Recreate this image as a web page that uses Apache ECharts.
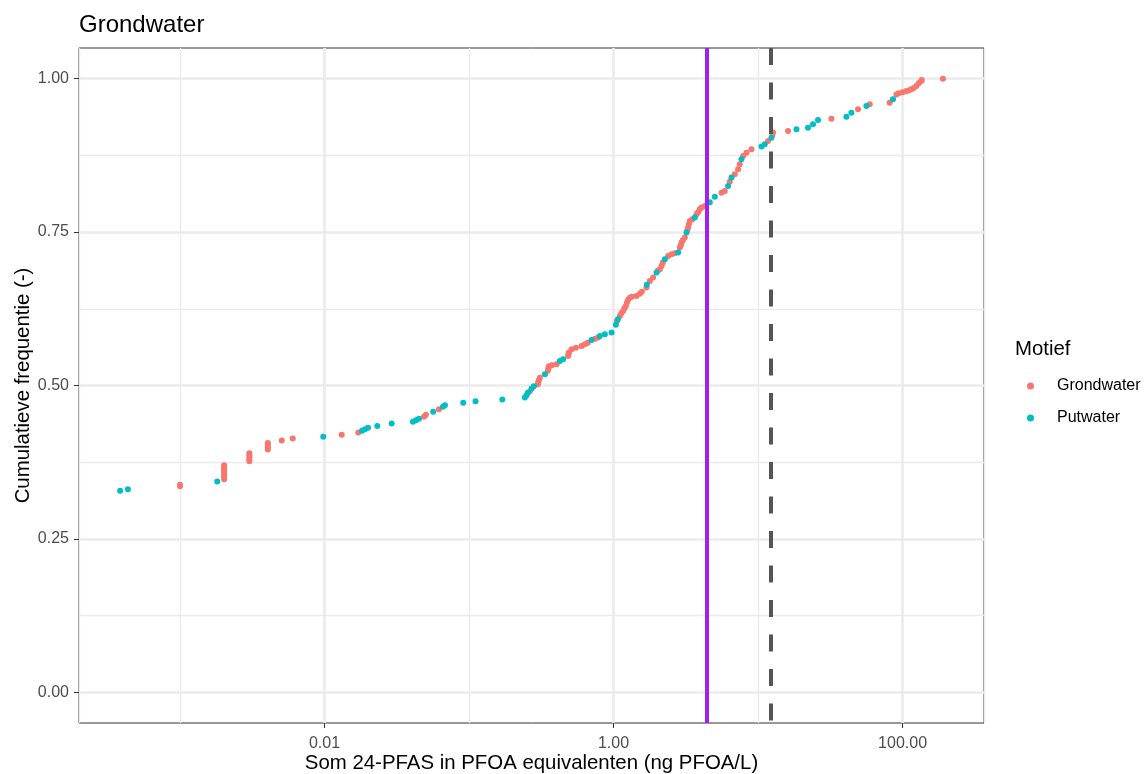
<!DOCTYPE html>
<html>
<head>
<meta charset="utf-8">
<script src="https://cdn.jsdelivr.net/npm/echarts@6/dist/echarts.min.js"></script>
<style>
html,body{margin:0;padding:0;background:#ffffff;}
#chart{width:1148px;height:774px;}
</style>
</head>
<body>
<div id="chart"></div>
<script>
// ---- data ----
// [concentration (ng PFOA-eq/L), cumulative frequency]
const grondwater = [
  [0.001,0.3357],[0.001,0.3384],
  [0.00202,0.3474],[0.00202,0.3507],[0.00202,0.3539],[0.00202,0.3572],[0.00202,0.3604],[0.00202,0.3637],[0.00202,0.3669],[0.00202,0.3702],
  [0.00302,0.3767],[0.00302,0.3800],[0.00302,0.3832],[0.00302,0.3865],[0.00302,0.3897],
  [0.00405,0.3958],[0.00405,0.3995],[0.00405,0.4031],[0.00405,0.4065],
  [0.00506,0.4104],[0.00603,0.4137],[0.01315,0.4199],[0.01713,0.4235],
  [0.0488,0.4492],[0.0503,0.4524],[0.0619,0.4614],
  [0.2638,0.4907],[0.2995,0.5021],[0.301,0.5054],[0.3043,0.5086],[0.3092,0.5127],
  [0.3513,0.5241],[0.354,0.5282],[0.357,0.5314],[0.374,0.5329],[0.4035,0.5347],
  [0.485,0.5482],[0.487,0.5510],[0.491,0.5537],[0.512,0.5591],[0.549,0.5616],[0.601,0.5645],[0.633,0.5673],
  [0.664,0.5697],[0.7425,0.5762],[0.7825,0.5782],
  [1.054,0.6047],[1.106,0.6134],[1.132,0.6178],[1.165,0.6215],[1.188,0.6259],[1.216,0.6296],[1.236,0.6349],[1.262,0.6397],[1.296,0.6430],
  [1.338,0.6446],[1.442,0.6459],[1.520,0.6495],[1.569,0.6528],[1.691,0.6596],[1.782,0.6704],[1.878,0.6759],
  [2.025,0.6870],[2.090,0.6894],[2.148,0.6948],[2.192,0.7000],[2.386,0.7111],[2.518,0.7138],[2.654,0.7155],
  [2.874,0.7248],[2.920,0.7285],[2.953,0.7329],[3.015,0.7366],[3.112,0.7410],
  [3.238,0.7529],[3.280,0.7573],[3.317,0.7627],[3.371,0.7681],[3.508,0.7708],
  [3.750,0.7790],[3.847,0.7822],[3.953,0.7871],[4.061,0.7899],[4.279,0.7925],
  [5.583,0.8143],[5.884,0.8169],[6.371,0.8319],[6.901,0.8441],[7.272,0.8523],[7.471,0.8604],
  [7.875,0.8739],[8.313,0.8795],[9.002,0.8849],[11.73,0.8984],[12.54,0.9077],[12.70,0.9121],
  [16.13,0.9147],[32.19,0.9349],[49.16,0.9500],[59.23,0.9582],[81.43,0.9609],
  [90.59,0.9744],[93.98,0.9761],[100.2,0.9777],[106.2,0.9798],[110.2,0.9809],[115.1,0.9826],
  [119.4,0.9850],[124.6,0.9879],[129.2,0.9924],[134.9,0.9961],[135.6,0.9980],[190.3,1.0000]
];
const putwater = [
  [0.000385,0.3283],[0.000436,0.3311],[0.00181,0.3436],
  [0.0098,0.4166],[0.01817,0.4264],[0.01906,0.4288],[0.0200,0.4313],[0.02318,0.4342],[0.02915,0.4381],
  [0.0409,0.4410],[0.0429,0.4435],[0.0450,0.4459],[0.0565,0.4573],[0.0660,0.4655],[0.0681,0.4679],
  [0.0912,0.4717],[0.111,0.4744],[0.170,0.4772],[0.2435,0.4805],[0.250,0.4842],[0.2554,0.4883],[0.271,0.4951],
  [0.281,0.4989],[0.335,0.5184],[0.425,0.5401],[0.448,0.5428],[0.7045,0.5743],[0.804,0.5808],[0.871,0.5836],[0.969,0.5863],
  [1.037,0.5990],[1.071,0.6080],[1.699,0.6642],[1.983,0.6840],[2.263,0.7057],[2.797,0.7166],
  [3.197,0.7492],[3.650,0.7736],[4.634,0.7985],[5.019,0.8075],[6.201,0.8251],[6.546,0.8388],
  [7.677,0.8686],[10.56,0.8893],[11.13,0.8930],[12.38,0.9039],[18.44,0.9174],[22.17,0.9202],
  [24.01,0.9256],[26.00,0.9326],[40.87,0.9381],[44.26,0.9446],[56.20,0.9554],[85.82,0.9663]
];
const seriesNames = ['Grondwater', 'Putwater'];
const xTickValues = [0.01, 1, 100];
const xTickLabels = ['0.01', '1.00', '100.00'];
const yTickValues = [0, 0.25, 0.5, 0.75, 1];
const yTickLabels = ['0.00', '0.25', '0.50', '0.75', '1.00'];
const guidelineValue = 4.4;     // purple solid line
const thresholdValue = 12.3;    // grey dashed line
const xRange = [0.0002, 366];
const yRange = [-0.05, 1.05];

// ---- chart ----
const FONT = '"Liberation Sans", Arial, Helvetica, sans-serif';
const GRID_COLOR = '#EBEBEB';
const panel = {left: 79, top: 48, width: 905, height: 675};
// inner grid: y from 0 to 1 inside the expanded panel
const unit = panel.height / (yRange[1] - yRange[0]);
const inner = {left: panel.left, width: panel.width,
  top: panel.top + (yRange[1] - 1) * unit, height: unit};

function xLabel(v) {
  for (let i = 0; i < xTickValues.length; i++) {
    if (Math.abs(Math.log10(v) - Math.log10(xTickValues[i])) < 1e-6) return xTickLabels[i];
  }
  return '';
}
function yLabel(v) {
  for (let i = 0; i < yTickValues.length; i++) {
    if (Math.abs(v - yTickValues[i]) < 1e-6) return yTickLabels[i];
  }
  return '';
}

const chart = echarts.init(document.getElementById('chart'), null, {renderer: 'canvas'});
chart.setOption({
  animation: false,
  backgroundColor: '#ffffff',
  title: [
    {text: 'Grondwater', left: 79, top: 13, padding: 0,
     textStyle: {fontFamily: FONT, fontSize: 24, fontWeight: 'normal', color: '#000000'}},
    {text: 'Motief', left: 1015, top: 339, padding: 0,
     textStyle: {fontFamily: FONT, fontSize: 20.4, fontWeight: 'normal', color: '#000000'}}
  ],
  legend: {
    data: seriesNames,
    orient: 'vertical',
    left: 1022, top: 373,
    icon: 'circle',
    itemWidth: 7, itemHeight: 7, itemGap: 16,
    textStyle: {fontFamily: FONT, fontSize: 16, color: '#000000', padding: [0, 0, 0, 18]}
  },
  grid: [
    {left: panel.left, top: panel.top, width: panel.width, height: panel.height,
     containLabel: false, outerBoundsMode: 'none',
     show: true, borderColor: '#333333', borderWidth: 1, backgroundColor: '#ffffff'},
    {left: inner.left, top: inner.top, width: inner.width, height: inner.height,
     containLabel: false, outerBoundsMode: 'none', show: false}
  ],
  xAxis: [
    { // minor gridlines every decade
      gridIndex: 0, type: 'log', logBase: 10, min: xRange[0], max: xRange[1],
      axisLine: {show: false}, axisTick: {show: false}, axisLabel: {show: false},
      splitLine: {show: true, lineStyle: {color: GRID_COLOR, width: 1.3}}
    },
    { // major ticks, labels, major gridlines
      gridIndex: 0, type: 'log', logBase: 10, min: xRange[0], max: xRange[1], position: 'bottom',
      axisLine: {show: false},
      axisTick: {show: true, length: 5, customValues: xTickValues, lineStyle: {color: '#333333', width: 1}},
      axisLabel: {show: true, customValues: xTickValues, margin: 13, formatter: xLabel,
        fontFamily: FONT, fontSize: 16, color: '#4D4D4D'},
      splitLine: {show: true, lineStyle: {color: GRID_COLOR, width: 2.5}},
      name: 'Som 24-PFAS in PFOA equivalenten (ng PFOA/L)', nameLocation: 'middle',
      nameGap: 30, nameMoveOverlap: false,
      nameTextStyle: {fontFamily: FONT, fontSize: 20.4, color: '#000000'}
    },
    {gridIndex: 1, type: 'log', logBase: 10, min: xRange[0], max: xRange[1], show: false}
  ],
  yAxis: [
    {gridIndex: 0, type: 'value', min: yRange[0], max: yRange[1], show: false,
     splitLine: {show: false}},
    {gridIndex: 1, type: 'value', min: 0, max: 1, interval: 0.25,
     axisLine: {show: false},
     axisTick: {show: true, length: 5, lineStyle: {color: '#333333', width: 1}},
     axisLabel: {show: true, margin: 10, formatter: yLabel,
       fontFamily: FONT, fontSize: 16, color: '#4D4D4D'},
     splitLine: {show: true, lineStyle: {color: GRID_COLOR, width: 2.5}},
     minorTick: {show: false, splitNumber: 2},
     minorSplitLine: {show: true, lineStyle: {color: GRID_COLOR, width: 1.3}},
     name: 'Cumulatieve frequentie (-)', nameLocation: 'middle',
     nameGap: 46, nameMoveOverlap: false,
     nameTextStyle: {fontFamily: FONT, fontSize: 20.4, color: '#000000'}}
  ],
  series: [
    {
      name: seriesNames[0], type: 'scatter', xAxisIndex: 0, yAxisIndex: 0,
      data: grondwater, symbolSize: 6, itemStyle: {color: '#F8766D', opacity: 1},
      z: 3,
      markLine: {
        silent: true, symbol: ['none', 'none'], label: {show: false}, z: 10,
        data: [
          {xAxis: guidelineValue, lineStyle: {color: '#A020F0', width: 4, type: 'solid'}},
          {xAxis: thresholdValue, lineStyle: {color: '#555555', width: 4, type: [17, 17.5], dashOffset: 32}}
        ]
      }
    },
    {
      name: seriesNames[1], type: 'scatter', xAxisIndex: 0, yAxisIndex: 0,
      data: putwater, symbolSize: 6, itemStyle: {color: '#00BFC4', opacity: 1},
      z: 4
    }
  ]
});
</script>
</body>
</html>
